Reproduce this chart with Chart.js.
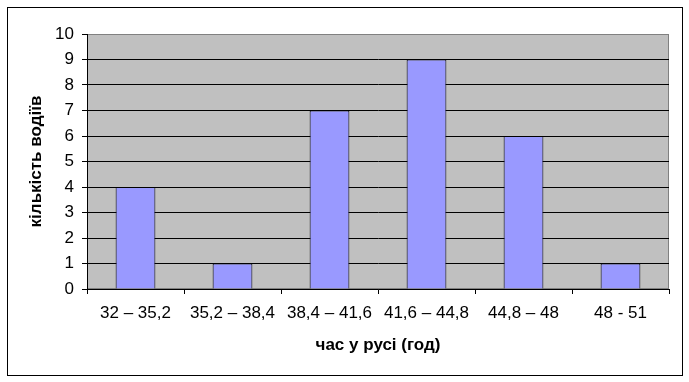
<!DOCTYPE html>
<html>
<head>
<meta charset="utf-8">
<script src="https://cdn.jsdelivr.net/npm/chart.js@4"></script>
<style>
  body { margin: 0; background: #fff; }
  #wrap { position: relative; width: 689px; height: 382px; }
  #frame { position: absolute; left: 7px; top: 7px; width: 674px; height: 367px; border: 1px solid #000; pointer-events: none; }
</style>
</head>
<body>
<div id="wrap">
  <canvas id="chart" width="689" height="382"></canvas>
  <div id="frame"></div>
</div>
<script>
// інтервали часу та кількість водіїв
const labels = ['32 – 35,2', '35,2 – 38,4', '38,4 – 41,6', '41,6 – 44,8', '44,8 – 48', '48 - 51'];
const drivers = [4, 1, 7, 9, 6, 1];
const yTitle = 'кількість водіїв';
const xTitle = 'час у русі (год)';

const fontFamily = '"Liberation Sans", Arial, sans-serif';

// сірий фон області побудови + сіра рамка зверху/справа
const plotBg = {
  id: 'plotBg',
  beforeDraw(chart) {
    const { ctx, chartArea: a } = chart;
    ctx.save();
    ctx.fillStyle = '#c0c0c0';
    ctx.fillRect(a.left, a.top, a.right - a.left, a.bottom - a.top);
    ctx.strokeStyle = '#808080';
    ctx.lineWidth = 1;
    ctx.strokeRect(a.left + 0.5, a.top + 0.5, a.right - a.left - 1, a.bottom - a.top - 1);
    ctx.restore();
  }
};

new Chart(document.getElementById('chart'), {
  type: 'bar',
  data: {
    labels: labels,
    datasets: [{
      data: drivers,
      backgroundColor: '#9999ff',
      borderColor: '#000000',
      borderWidth: 1,
      barPercentage: 0.41,
      categoryPercentage: 1
    }]
  },
  options: {
    responsive: false,
    animation: false,
    layout: { padding: { top: 34, right: 20, left: 26, bottom: 26 } },
    plugins: { legend: { display: false }, tooltip: { enabled: false } },
    scales: {
      x: {
        afterFit(s) { s.height = 67; },
        grid: { drawOnChartArea: false, drawTicks: true, tickLength: 5, color: '#000' },
        border: { color: '#000' },
        ticks: { color: '#000', font: { family: fontFamily, size: 17 }, padding: 9, maxRotation: 0 },
        title: { display: true, text: xTitle, color: '#000', font: { family: fontFamily, size: 17, weight: 'bold' }, padding: { top: 4, bottom: 0 } }
      },
      y: {
        min: 0,
        max: 10,
        afterFit(s) { s.width = 61; },
        grid: {
          color: ctx => (ctx.tick && ctx.tick.value === 10 ? '#808080' : '#000'),
          tickColor: '#000',
          tickLength: 5
        },
        border: { color: '#000' },
        ticks: { stepSize: 1, color: '#000', font: { family: fontFamily, size: 17 }, padding: 8 },
        title: { display: true, text: yTitle, color: '#000', font: { family: fontFamily, size: 17, weight: 'bold' }, padding: { top: 0, bottom: 0 } }
      }
    }
  },
  plugins: [plotBg]
});
</script>
</body>
</html>
